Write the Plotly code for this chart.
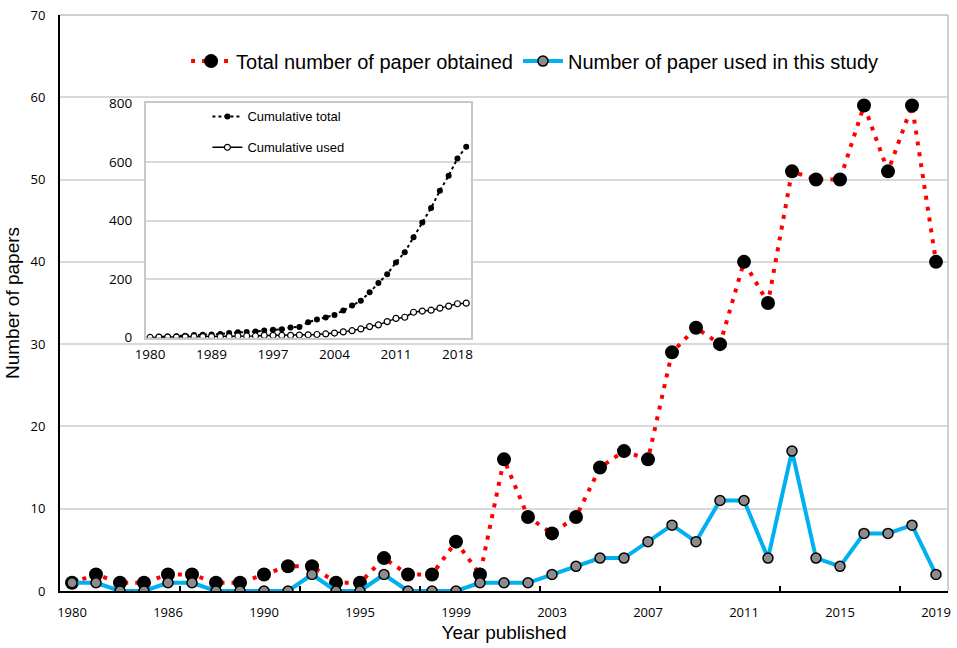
import plotly.graph_objects as go

# publication years (categories as plotted)
years = ["1980", "1982", "1984", "1985", "1986", "1987", "1988", "1989", "1990",
         "1991", "1992", "1993", "1995", "1996", "1997", "1998", "1999", "2000",
         "2001", "2002", "2003", "2004", "2005", "2006", "2007", "2008", "2009",
         "2010", "2011", "2012", "2013", "2014", "2015", "2016", "2017", "2018", "2019"]

total_obtained = [1, 2, 1, 1, 2, 2, 1, 1, 2, 3, 3, 1, 1, 4, 2, 2, 6, 2, 16, 9, 7, 9,
                  15, 17, 16, 29, 32, 30, 40, 35, 51, 50, 50, 59, 51, 59, 40]
used_in_study = [1, 1, 0, 0, 1, 1, 0, 0, 0, 0, 2, 0, 0, 2, 0, 0, 0, 1, 1, 1, 2, 3,
                 4, 4, 6, 8, 6, 11, 11, 4, 17, 4, 3, 7, 7, 8, 2]

cumulative_total = [1, 3, 4, 5, 7, 9, 10, 11, 13, 16, 19, 20, 21, 25, 27, 29, 35, 37,
                    53, 62, 69, 78, 93, 110, 126, 155, 187, 217, 257, 292, 343, 393,
                    443, 502, 553, 612, 652]
cumulative_used = [1, 2, 2, 2, 3, 4, 4, 4, 4, 4, 6, 6, 6, 8, 8, 8, 8, 9, 10, 11, 13,
                   16, 20, 24, 30, 38, 44, 55, 66, 70, 87, 91, 94, 101, 108, 116, 118]

pos = list(range(len(years)))
main_ticks = pos[::4]
inset_ticks = pos[::7]
boundary_ticks = [i + 0.5 for i in range(4, len(years) - 1, 5)]

TICK_FONT = "Open Sans"
TEXT_FONT = "Liberation Sans, Arial, sans-serif"

fig = go.Figure()

fig.add_trace(go.Scatter(
    x=pos, y=total_obtained, name="Total number of paper obtained",
    mode="lines+markers",
    line=dict(color="#ff0000", width=4, dash="4px,7px"),
    marker=dict(color="#000000", size=14),
    legend="legend",
))
fig.add_trace(go.Scatter(
    x=pos, y=used_in_study, name="Number of paper used in this study",
    mode="lines+markers",
    line=dict(color="#00b0f0", width=4),
    marker=dict(color="#8c8c8c", size=10, line=dict(color="#000000", width=1.5)),
    legend="legend",
))

# inset: cumulative counts (drawn on x3/y3, above the blank x2/y2 backdrop)
fig.add_trace(go.Scatter(
    x=pos, y=cumulative_total, name="Cumulative total",
    mode="lines+markers", xaxis="x3", yaxis="y3",
    line=dict(color="#000000", width=2, dash="dot"),
    marker=dict(color="#000000", size=6),
    legend="legend2", legendgroup="a",
))
fig.add_trace(go.Scatter(
    x=pos, y=cumulative_used, name="Cumulative used",
    mode="lines+markers", xaxis="x3", yaxis="y3",
    line=dict(color="#000000", width=1.5),
    marker=dict(color="#ffffff", size=6, line=dict(color="#000000", width=1.2)),
    legend="legend2", legendgroup="b",
))

blank = dict(showgrid=False, zeroline=False, showline=False,
             showticklabels=False, ticks="", fixedrange=True)

fig.update_layout(
    width=957, height=648,
    margin=dict(l=60, r=6, t=11, b=57),
    paper_bgcolor="#fff", plot_bgcolor="#fff",
    font=dict(family=TEXT_FONT, color="#000"),
    xaxis=dict(
        range=[-0.5, len(years) - 0.5],
        tickvals=main_ticks, ticktext=[years[i] for i in main_ticks],
        ticks="", showgrid=False, zeroline=False,
        showline=True, linecolor="#000", linewidth=2,
        tickfont=dict(family=TICK_FONT, size=13),
        ticklabelstandoff=8,
        minor=dict(tickvals=boundary_ticks, ticks="inside", ticklen=5,
                   tickwidth=1.5, tickcolor="#000", showgrid=False),
        title=dict(text="Year published", font=dict(size=19), standoff=6),
    ),
    yaxis=dict(
        range=[0, 70], dtick=10, ticks="",
        showgrid=True, gridcolor="#d9d9d9", gridwidth=1.5, zeroline=False,
        showline=True, linecolor="#000", linewidth=2,
        tickfont=dict(family=TICK_FONT, size=13),
        ticklabelstandoff=10,
        title=dict(text="Number of papers", font=dict(size=19), standoff=6),
    ),
    # white backdrop behind the inset chart
    xaxis2=dict(domain=[0.045, 0.474], anchor="y2", range=[0, 1], **blank),
    yaxis2=dict(domain=[0.378, 0.872], anchor="x2", range=[0, 1], **blank),
    xaxis3=dict(
        domain=[0.0965, 0.4624], anchor="y3",
        range=[-0.5, len(years) - 0.5],
        tickvals=inset_ticks, ticktext=[years[i] for i in inset_ticks],
        ticks="", showgrid=False, zeroline=False,
        showline=True, mirror=True, linecolor="#c8c8c8", linewidth=1.5,
        tickfont=dict(family=TICK_FONT, size=13.5),
        ticklabelstandoff=3,
    ),
    yaxis3=dict(
        domain=[0.4397, 0.8466], anchor="x3",
        range=[0, 800], dtick=200, ticks="",
        showgrid=True, gridcolor="#d9d9d9", gridwidth=1.5, zeroline=False,
        showline=True, mirror=True, linecolor="#c8c8c8", linewidth=1.5,
        tickfont=dict(family=TICK_FONT, size=13.5),
        ticklabelstandoff=9,
    ),
    legend=dict(
        orientation="h", x=0.535, xanchor="center", y=0.92, yanchor="middle",
        font=dict(family=TEXT_FONT, size=20), bgcolor="rgba(0,0,0,0)",
        itemwidth=40,
    ),
    legend2=dict(
        orientation="v", x=0.166, xanchor="left", y=0.797, yanchor="middle",
        font=dict(family=TEXT_FONT, size=13), bgcolor="rgba(0,0,0,0)",
        tracegroupgap=11,
    ),
    shapes=[
        # grey frame on the top and right of the main plot area
        dict(type="line", xref="paper", yref="paper", x0=0, x1=1, y0=1, y1=1,
             line=dict(color="#bfbfbf", width=1.5), layer="above"),
        dict(type="line", xref="paper", yref="paper", x0=1, x1=1, y0=0, y1=1,
             line=dict(color="#bfbfbf", width=1.5), layer="above"),
    ],
)

fig.write_html("out.html", config={"displayModeBar": False},
               post_script="document.body.style.margin='0';")
